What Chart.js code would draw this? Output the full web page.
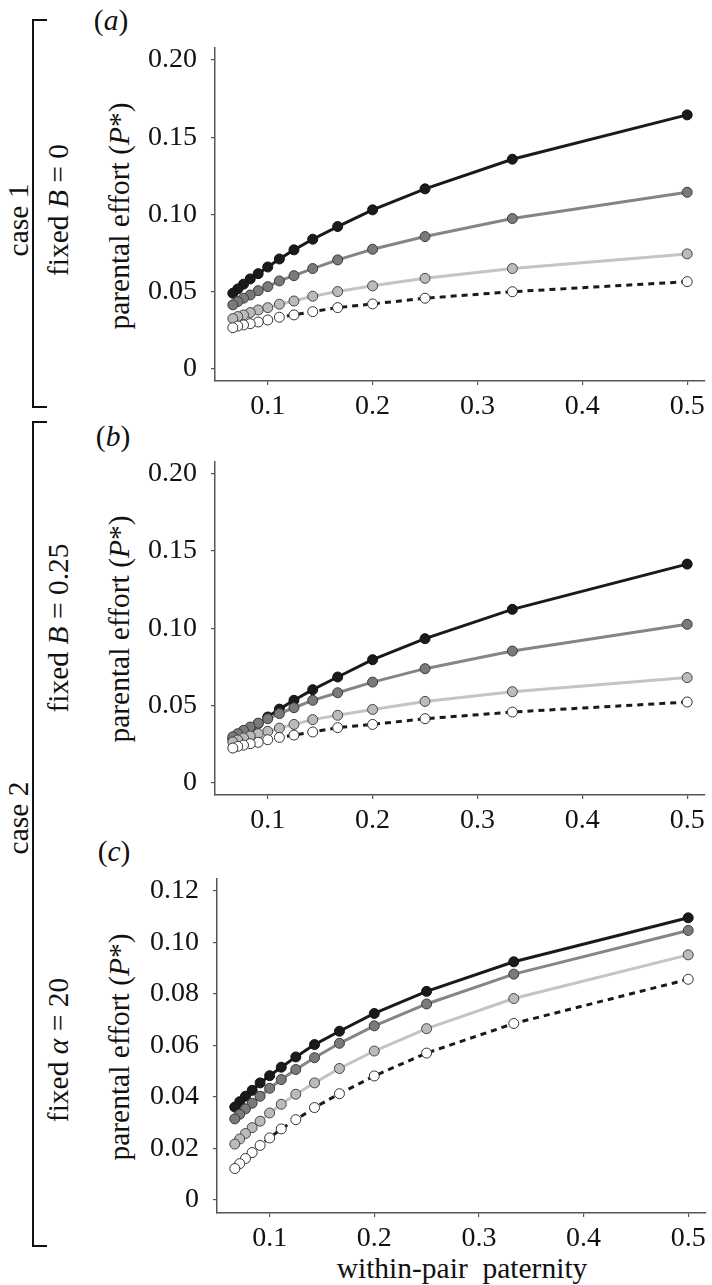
<!DOCTYPE html>
<html><head><meta charset="utf-8">
<script src="https://cdn.jsdelivr.net/npm/chart.js@4.4.0/dist/chart.umd.min.js"></script>
<style>
html,body{margin:0;padding:0;background:#fff;}
body{width:712px;height:1285px;position:relative;overflow:hidden;font-family:'Liberation Serif','Times New Roman',serif;color:#111;}
.cv{position:absolute;}
.rot{position:absolute;transform:translate(-50%,-50%) rotate(-90deg);white-space:nowrap;font-size:29.5px;line-height:1;}
.lbl{position:absolute;transform:translate(-50%,-50%);white-space:pre;font-size:29.5px;line-height:1;}
.br{position:absolute;border:2px solid #111;border-right:none;width:15px;box-sizing:border-box;}
</style></head><body>

<div class="br" style="left:32px;top:19px;height:389px;"></div>
<div class="br" style="left:32px;top:421px;height:826px;"></div>
<div class="rot" style="left:19px;top:220px;">case 1</div>
<div class="rot" style="left:19px;top:818px;">case 2</div>

<div class="rot" style="left:59px;top:210px;">fixed <i>B</i> = 0</div>
<div class="rot" style="left:59px;top:628px;">fixed <i>B</i> = 0.25</div>
<div class="rot" style="left:59px;top:1050px;">fixed <i>α</i> = 20</div>

<div class="rot" style="left:120px;top:216px;">parental effort (<i>P</i>*)</div>
<div class="rot" style="left:120px;top:629px;">parental effort (<i>P</i>*)</div>
<div class="rot" style="left:120px;top:1047px;">parental effort (<i>P</i>*)</div>

<div class="lbl" style="left:111px;top:21px;">(<i>a</i>)</div>
<div class="lbl" style="left:113px;top:437px;">(<i>b</i>)</div>
<div class="lbl" style="left:114px;top:852px;">(<i>c</i>)</div>

<div class="lbl" style="left:462px;top:1269px;">within-pair  paternity</div>

<canvas id="cA" class="cv" width="582" height="440" style="left:130px;top:0px;width:582px;height:440px;"></canvas>
<canvas id="cB" class="cv" width="582" height="440" style="left:130px;top:420px;width:582px;height:440px;"></canvas>
<canvas id="cC" class="cv" width="582" height="445" style="left:130px;top:840px;width:582px;height:445px;"></canvas>

<script>
// within-pair paternity (x values)
const paternity = [0.5, 0.3333, 0.25, 0.2, 0.1667, 0.1429, 0.125, 0.1111, 0.1, 0.0909, 0.0833, 0.0769, 0.0714, 0.0667];
const xTicks = [0.1, 0.2, 0.3, 0.4, 0.5];
const xTickLabels = ['0.1', '0.2', '0.3', '0.4', '0.5'];

// panel (a): case 1, fixed B = 0
const a_black = [0.1645, 0.1358, 0.1166, 0.1030, 0.0922, 0.0840, 0.0771, 0.0712, 0.0660, 0.0617, 0.0583, 0.0549, 0.0518, 0.0490];
const a_dark  = [0.1144, 0.0974, 0.0857, 0.0775, 0.0706, 0.0650, 0.0604, 0.0570, 0.0533, 0.0507, 0.0479, 0.0458, 0.0436, 0.0415];
const a_light = [0.0745, 0.0650, 0.0587, 0.0538, 0.0501, 0.0471, 0.0440, 0.0419, 0.0397, 0.0382, 0.0365, 0.0350, 0.0339, 0.0326];
const a_white = [0.0565, 0.0500, 0.0458, 0.0421, 0.0397, 0.0371, 0.0350, 0.0335, 0.0317, 0.0304, 0.0293, 0.0285, 0.0278, 0.0267];
const a_yTicks = [0, 0.05, 0.10, 0.15, 0.20];
const a_yLabels = ['0', '0.05', '0.10', '0.15', '0.20'];

// panel (b): case 2, fixed B = 0.25
const b_black = [0.1415, 0.1122, 0.0932, 0.0796, 0.0684, 0.0602, 0.0533, 0.0476, 0.0425, 0.0383, 0.0350, 0.0323, 0.0300, 0.0282];
const b_dark  = [0.1025, 0.0852, 0.0738, 0.0651, 0.0582, 0.0533, 0.0485, 0.0447, 0.0414, 0.0385, 0.0360, 0.0339, 0.0317, 0.0297];
const b_light = [0.0680, 0.0589, 0.0526, 0.0474, 0.0436, 0.0408, 0.0377, 0.0353, 0.0332, 0.0317, 0.0302, 0.0289, 0.0276, 0.0263];
const b_white = [0.0522, 0.0457, 0.0414, 0.0377, 0.0356, 0.0328, 0.0308, 0.0293, 0.0278, 0.0261, 0.0252, 0.0243, 0.0235, 0.0224];
const b_yTicks = [0, 0.05, 0.10, 0.15, 0.20];
const b_yLabels = ['0', '0.05', '0.10', '0.15', '0.20'];

// panel (c): case 2, fixed alpha = 20
const c_black = [0.1096, 0.0925, 0.0810, 0.0724, 0.0655, 0.0603, 0.0555, 0.0515, 0.0482, 0.0454, 0.0425, 0.0402, 0.0381, 0.0360];
const c_dark  = [0.1047, 0.0877, 0.0761, 0.0676, 0.0608, 0.0552, 0.0506, 0.0467, 0.0433, 0.0402, 0.0375, 0.0353, 0.0332, 0.0314];
const c_light = [0.0952, 0.0782, 0.0665, 0.0578, 0.0510, 0.0454, 0.0410, 0.0371, 0.0337, 0.0305, 0.0280, 0.0257, 0.0236, 0.0216];
const c_white = [0.0857, 0.0685, 0.0570, 0.0481, 0.0412, 0.0358, 0.0311, 0.0275, 0.0240, 0.0211, 0.0183, 0.0160, 0.0140, 0.0121];
const c_yTicks = [0, 0.02, 0.04, 0.06, 0.08, 0.10, 0.12];
const c_yLabels = ['0', '0.02', '0.04', '0.06', '0.08', '0.10', '0.12'];

const FONT = "'Liberation Serif', 'Times New Roman', serif";

function pts(vals) { return paternity.map((x, i) => ({x: x, y: vals[i]})); }

function styles() {
  return [
    {order: 4, borderColor: '#1a1a1a', borderWidth: 3, pointBackgroundColor: '#1a1a1a', pointBorderColor: '#111', pointRadius: 5, pointBorderWidth: 1},
    {order: 3, borderColor: '#858585', borderWidth: 3, pointBackgroundColor: '#7a7a7a', pointBorderColor: '#3a3a3a', pointRadius: 5, pointBorderWidth: 1},
    {order: 2, borderColor: '#c4c4c4', borderWidth: 3, pointBackgroundColor: '#bbbbbb', pointBorderColor: '#444', pointRadius: 5, pointBorderWidth: 1},
    {order: 1, borderColor: '#1a1a1a', borderWidth: 3, borderDash: [6, 5], pointBackgroundColor: '#ffffff', pointBorderColor: '#333', pointRadius: 5, pointBorderWidth: 1}
  ];
}

function makePanel(id, g, series, yMin, yMax, yTicks, yLabels) {
  const st = styles();
  const datasets = series.map((s, i) => Object.assign({data: pts(s), tension: 0, fill: false, clip: false}, st[i]));
  new Chart(document.getElementById(id), {
    type: 'line',
    data: {datasets: datasets},
    options: {
      responsive: false, animation: false,
      layout: {padding: {left: 0, top: g.padTop, right: g.padRight, bottom: 0}},
      plugins: {legend: {display: false}, tooltip: {enabled: false}},
      scales: {
        x: {
          type: 'linear', min: 0.0497, max: 0.517,
          afterBuildTicks: s => { s.ticks = xTicks.map(v => ({value: v})); },
          afterFit: s => { s.height = g.xH; },
          ticks: {autoSkip: false, maxRotation: 0, padding: 5, color: '#111', font: {family: FONT, size: 28},
                  callback: (v, i) => xTickLabels[i]},
          grid: {display: true, drawOnChartArea: false, drawTicks: true, tickLength: 4, color: '#555', lineWidth: 1.2},
          border: {display: true, color: '#555', width: 1.5}
        },
        y: {
          type: 'linear', min: yMin, max: yMax,
          afterBuildTicks: s => { s.ticks = yTicks.map(v => ({value: v})); },
          afterFit: s => { s.width = g.yW; },
          ticks: {autoSkip: false, padding: 14, color: '#111', font: {family: FONT, size: 28},
                  callback: (v, i) => yLabels[i]},
          grid: {display: true, drawOnChartArea: false, drawTicks: true, tickLength: 4, color: '#555', lineWidth: 1.2},
          border: {display: true, color: '#555', width: 1.5}
        }
      }
    }
  });
}

makePanel('cA', {padTop: 48, padRight: 7, xH: 59, yW: 85}, [a_black, a_dark, a_light, a_white], -0.0078, 0.2078, a_yTicks, a_yLabels);
makePanel('cB', {padTop: 42, padRight: 7, xH: 65, yW: 85}, [b_black, b_dark, b_light, b_white], -0.0080, 0.2076, b_yTicks, b_yLabels);
makePanel('cC', {padTop: 39, padRight: 5, xH: 72, yW: 87}, [c_black, c_dark, c_light, c_white], -0.0052, 0.1247, c_yTicks, c_yLabels);
</script>
</body></html>
